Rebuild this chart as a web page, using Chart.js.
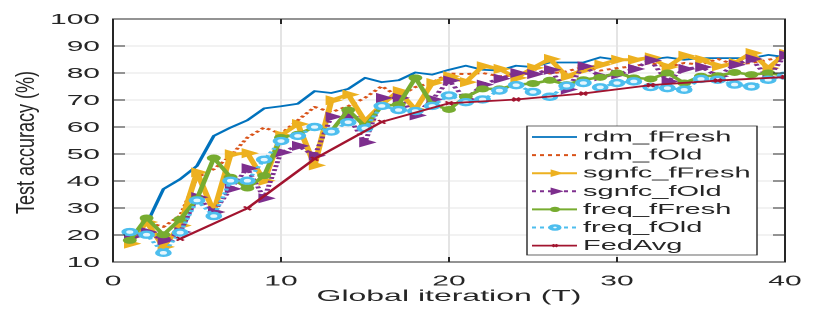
<!DOCTYPE html>
<html>
<head>
<meta charset="utf-8">
<script src="https://cdn.jsdelivr.net/npm/chart.js@4.4.0/dist/chart.umd.min.js"></script>
<style>
  html, body { margin: 0; padding: 0; background: #ffffff; overflow: hidden; }
  #wrap { position: absolute; left: 0; top: 0; width: 415px; height: 316px; transform: scaleX(2); transform-origin: 0 0; }
</style>
</head>
<body>
<div id="wrap"><canvas id="c"></canvas></div>
<script>
const iterations = [1,2,3,4,5,6,7,8,9,10,11,12,13,14,15,16,17,18,19,20,21,22,23,24,25,26,27,28,29,30,31,32,33,34,35,36,37,38,39,40];
const fedIterations = [4,8,12,16,20,24,28,32,36,40];

const rdmFresh = [19,24,37,40.7,45.6,56.7,59.8,62.5,66.9,67.7,68.6,73.3,72.6,74.1,78.2,76.6,77.3,80.2,79.4,81.2,82.7,81.2,80.9,82.7,82.2,83.9,83.9,83.9,85.8,84.9,84.9,85.1,85.8,84.9,85.5,85.5,85.5,85.5,86.7,85.9];
const rdmOld = [18.6,24.8,23,27.2,41.3,44.4,49.3,56.1,59.8,57.5,62.5,67.4,65.5,67.7,70.8,75.1,71.2,74.8,76.5,79.8,79.6,80,78.8,79.1,81.5,79.8,80.6,82.2,80.9,81.8,82.5,83.7,82.2,83.7,83.1,85.2,83.1,83.7,84.9,86.1];
const sgnfcFresh = [16.8,24.8,15.6,23.5,43.2,28.5,49.9,50.3,40.1,56.9,61.1,45.8,69.9,72,62.2,68.3,73.3,66.5,76.3,78.8,76.6,82.5,81.5,78.2,81.9,85.2,78.8,81.2,83.1,84.9,84.9,85.8,82.2,86.4,84.9,82.5,83.7,87.4,81.8,87.1];
const sgnfcOld = [19.3,21.1,18,21.1,34,28.5,37.1,44.7,33.6,50.6,53,49.4,63.8,63.8,54.3,70.8,70.8,64.3,70.2,77.2,70.2,75.7,77.9,80,79.6,81.2,73.9,82.5,78.8,79.5,81.5,84.7,76.9,81.5,82.2,78.8,83.1,85.2,78.2,86.5];
const freqFresh = [18,26.3,20.1,25.8,33.4,48.5,41.4,37.4,42,56.1,57.3,60,58.5,66.3,60.2,67.8,68.3,78.2,68.3,66.5,71.2,74.1,74.1,75.7,76.1,77.3,75.7,77.5,78.4,80,78.2,77.8,80,76.3,78.8,79,80.2,79.4,80,79];
const freqOld = [21.1,20.1,13.4,20.9,32.8,27,40.1,40.1,47.9,54.8,56.7,60,58.3,61.8,59.5,67.8,66.3,65.9,67.8,71.7,69.2,70.2,73.5,75.5,73,71.2,75.3,76.3,74.7,76.3,76.9,74.8,74.4,73.8,77.8,77.5,75.7,75,77.5,79];
const fedAvg = [18.6,29.9,48.2,61.9,68.8,70.2,72.4,75.5,77.2,78.5];

const seriesNames = ['rdm_fFresh','rdm_fOld','sgnfc_fFresh','sgnfc_fOld','freq_fFresh','freq_fOld','FedAvg'];
const yTicks = [10,20,30,40,50,60,70,80,90,100];
const xTicks = [0,10,20,30,40];
const xTitle = 'Global iteration (T)';
const yTitle = 'Test accuracy (%)';

function pts(xs, ys) { return xs.map((x, i) => ({ x: x, y: ys[i] })); }

const styles = [
  { color: '#0072BD', width: 1.8, dash: [], pointStyle: false, radius: 0 },
  { color: '#D95319', width: 2, dash: [2, 2], pointStyle: false, radius: 0 },
  { color: '#EDB120', width: 3, dash: [], pointStyle: 'triangle', rotation: 90, radius: 4.8, bg: '#EDB120' },
  { color: '#7E2F8E', width: 2.5, dash: [2, 2], pointStyle: 'triangle', rotation: 90, radius: 4.8, bg: '#7E2F8E' },
  { color: '#77AC30', width: 2.5, dash: [], pointStyle: 'circle', radius: 3, bg: '#77AC30' },
  { color: '#4DBEEE', width: 2.2, dash: [2, 2], pointStyle: 'circle', radius: 3, bg: '#e6f6fd', pbw: 2.4 },
  { color: '#A2142F', width: 1.8, dash: [], pointStyle: 'crossRot', radius: 2.5, bg: '#A2142F', pbw: 1.5 }
];
const seriesData = [
  pts(iterations, rdmFresh), pts(iterations, rdmOld), pts(iterations, sgnfcFresh),
  pts(iterations, sgnfcOld), pts(iterations, freqFresh), pts(iterations, freqOld),
  pts(fedIterations, fedAvg)
];

const datasets = seriesNames.map((name, i) => {
  const s = styles[i];
  return {
    label: name,
    data: seriesData[i],
    borderColor: s.color,
    backgroundColor: s.bg || s.color,
    borderWidth: s.width,
    borderDash: s.dash,
    borderCapStyle: 'butt',
    borderJoinStyle: 'round',
    tension: 0,
    fill: false,
    pointStyle: s.pointStyle || 'circle',
    pointRotation: s.rotation || 0,
    pointRadius: s.radius,
    pointBorderColor: s.color,
    pointBackgroundColor: s.bg || s.color,
    pointBorderWidth: s.pbw || 1,
    order: 10 - i
  };
});

const TEXT = '#262626';
const FONT = '"Liberation Sans", Arial, Helvetica, sans-serif';

const decor = {
  id: 'decor',
  afterDraw(chart) {
    const ctx = chart.ctx, ca = chart.chartArea;
    const xs = chart.scales.x, ys = chart.scales.y;
    ctx.save();
    // box + inward ticks
    ctx.strokeStyle = TEXT;
    ctx.lineWidth = 1;
    ctx.setLineDash([]);
    ctx.strokeRect(ca.left, ca.top, ca.right - ca.left, ca.bottom - ca.top);
    ctx.beginPath();
    yTicks.forEach(v => {
      const y = ys.getPixelForValue(v);
      ctx.moveTo(ca.left, y); ctx.lineTo(ca.left + 6, y);
      ctx.moveTo(ca.right, y); ctx.lineTo(ca.right - 6, y);
    });
    xTicks.forEach(v => {
      const x = xs.getPixelForValue(v);
      ctx.moveTo(x, ca.bottom); ctx.lineTo(x, ca.bottom - 5);
      ctx.moveTo(x, ca.top); ctx.lineTo(x, ca.top + 5);
    });
    ctx.stroke();
    // tick labels
    ctx.fillStyle = TEXT;
    ctx.font = '15px ' + FONT;
    ctx.textAlign = 'right';
    ctx.textBaseline = 'middle';
    yTicks.forEach(v => ctx.fillText(String(v), ca.left - 6.5, ys.getPixelForValue(v) + 1));
    ctx.textAlign = 'center';
    xTicks.forEach(v => ctx.fillText(String(v), xs.getPixelForValue(v), 281.5));
    // x title
    ctx.font = '16px ' + FONT;
    ctx.textBaseline = 'alphabetic';
    ctx.fillText(xTitle, (ca.left + ca.right) / 2, 301);
    // y title
    ctx.save();
    ctx.translate(17, 142.5);
    ctx.rotate(-Math.PI / 2);
    ctx.scale(1, 0.7);
    ctx.font = '18px ' + FONT;
    ctx.textAlign = 'center';
    ctx.textBaseline = 'alphabetic';
    ctx.fillText(yTitle, 0, 0);
    ctx.restore();
    // legend
    const lx = 263.5, ly = 126, lw = 115, lh = 129;
    ctx.fillStyle = '#ffffff';
    ctx.fillRect(lx, ly, lw, lh);
    ctx.strokeStyle = TEXT;
    ctx.lineWidth = 0.7;
    ctx.strokeRect(lx, ly, lw, lh);
    chart.data.datasets.forEach((ds, i) => {
      const y = 137 + i * 18.1;
      const s = styles[i];
      ctx.save();
      ctx.strokeStyle = s.color;
      ctx.lineWidth = Math.min(s.width, 2);
      ctx.setLineDash(s.dash);
      ctx.beginPath();
      ctx.moveTo(266, y); ctx.lineTo(288.5, y);
      ctx.stroke();
      ctx.setLineDash([]);
      if (s.pointStyle) {
        ctx.fillStyle = s.bg || s.color;
        ctx.strokeStyle = s.color;
        ctx.lineWidth = s.pbw || 1;
        Chart.helpers.drawPoint(ctx, { pointStyle: s.pointStyle, rotation: s.rotation || 0, radius: s.radius * 0.7, borderWidth: s.pbw || 1 }, 277.5, y);
      }
      ctx.restore();
      ctx.fillStyle = TEXT;
      ctx.font = '14.5px ' + FONT;
      ctx.textAlign = 'left';
      ctx.textBaseline = 'middle';
      ctx.fillText(ds.label, 291.5, y + 0.5);
    });
    ctx.restore();
  }
};

new Chart(document.getElementById('c'), {
  type: 'line',
  data: { datasets: datasets },
  options: {
    responsive: true,
    maintainAspectRatio: false,
    devicePixelRatio: 2,
    animation: false,
    layout: { padding: { left: 56.5, right: 22.5, top: 19, bottom: 54 } },
    plugins: { legend: { display: false }, tooltip: { enabled: false }, title: { display: false } },
    scales: {
      x: {
        type: 'linear', min: 0, max: 40,
        ticks: { display: false, stepSize: 10 },
        grid: { color: '#e4e4e4', lineWidth: 1, drawTicks: false },
        border: { display: false },
        afterFit(s) { s.height = 0; }
      },
      y: {
        type: 'linear', min: 10, max: 100,
        ticks: { display: false, stepSize: 10 },
        grid: { color: '#e4e4e4', lineWidth: 1, drawTicks: false },
        border: { display: false },
        afterFit(s) { s.width = 0; }
      }
    }
  },
  plugins: [decor]
});
</script>
</body>
</html>
